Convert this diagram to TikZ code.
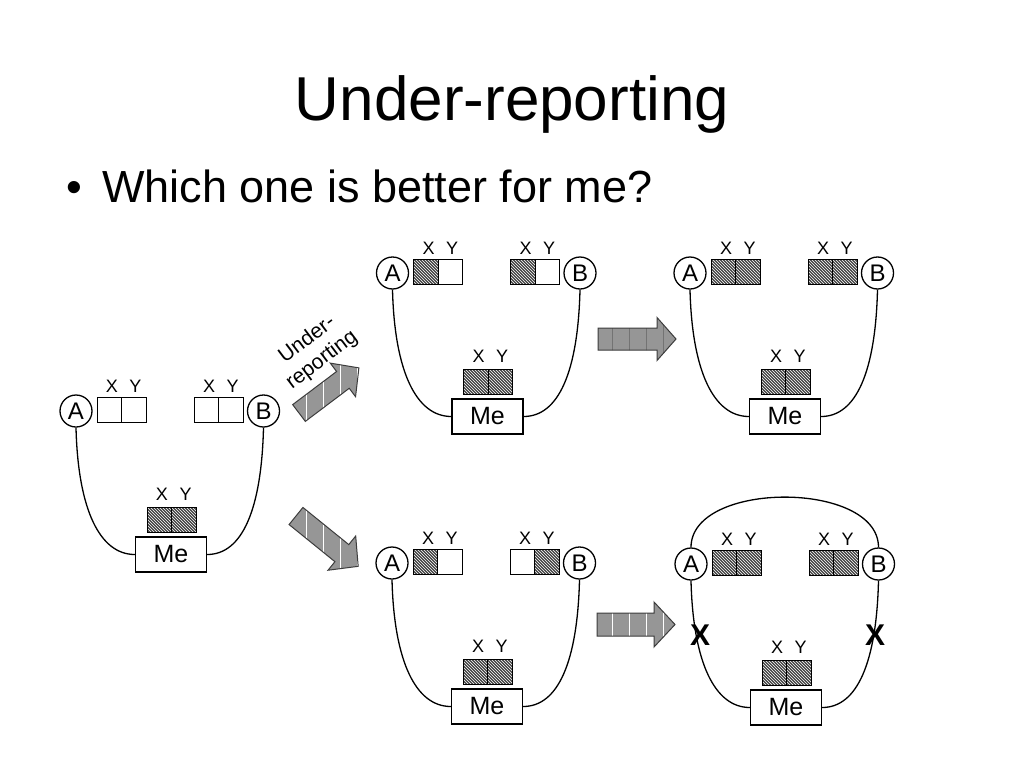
\documentclass[tikz,border=0pt]{standalone}
\usepackage{fontspec}
\setmainfont{Liberation Sans}
\usetikzlibrary{patterns}
\definecolor{arrowgray}{RGB}{150,150,150}
\definecolor{arrowedge}{RGB}{60,60,60}
\definecolor{hatchgray}{RGB}{65,65,65}

\newcommand{\blockarr}[8]{%
  \begin{scope}
    \clip[shift={(#1,#2)},rotate=#3] (0,-#5) -- ({#4-#7},-#5) -- ({#4-#7},-#6) -- (#4,0) -- ({#4-#7},#6) -- ({#4-#7},#5) -- (0,#5) -- cycle;
    \fill[arrowgray] (#1-110,#2-110) rectangle (#1+110,#2+110);
    \draw[#8,line width=0.9pt,step=17] (#1-110,#2-110) grid (#1+110,#2+110);
  \end{scope}
  \draw[arrowedge,line width=1pt,line join=miter,shift={(#1,#2)},rotate=#3] (0,-#5) -- ({#4-#7},-#5) -- ({#4-#7},-#6) -- (#4,0) -- ({#4-#7},#6) -- ({#4-#7},#5) -- (0,#5) -- cycle;
}

\begin{document}
\begin{tikzpicture}[x=1pt,y=-1pt,
  circ/.style={circle,draw,line width=1.3pt,minimum size=32pt,inner sep=0pt,font=\fontsize{24}{26}\selectfont},
  cell/.style={rectangle,draw,line width=1pt,minimum width=24.5pt,minimum height=25pt,inner sep=0pt},
  hat/.style={preaction={fill=hatchgray},pattern=north west lines,pattern color=white},
  emp/.style={fill=white},
  lab/.style={font=\fontsize{18}{20}\selectfont,inner sep=0pt},
  mebox/.style={rectangle,draw,line width=1.3pt,minimum width=71pt,minimum height=35pt,inner sep=0pt,font=\fontsize{25}{27}\selectfont,fill=white},
  link/.style={line width=1.3pt},
  bigx/.style={font=\fontsize{30}{32}\selectfont\bfseries,inner sep=0pt},
  ulab/.style={font=\fontsize{21}{24}\selectfont,rotate=37,inner sep=0pt},
  pics/panel/.style n args={4}{code={
    \node[circ] (-A) at (0,0) {A};
    \node[circ] (-B) at (187.5,0) {B};
    \node[cell,#1] (-ax) at (33.25,-1.5) {};
    \node[cell,#2] (-ay) at (57.75,-1.5) {};
    \node[cell,#3] (-bx) at (130.25,-1.5) {};
    \node[cell,#4] (-by) at (154.75,-1.5) {};
    \node[cell,hat] (-mx) at (83.25,108.5) {};
    \node[cell,hat] (-my) at (107.75,108.5) {};
    \node[lab] (-axl) at (36,-25) {X};
    \node[lab] (-ayl) at (59.5,-25) {Y};
    \node[lab] (-bxl) at (133,-25) {X};
    \node[lab] (-byl) at (156.5,-25) {Y};
    \node[lab] (-mxl) at (86,83) {X};
    \node[lab] (-myl) at (109.5,83) {Y};
    \node[mebox] (-Me) at (95,143.5) {Me};
    \draw[link] (-A.south) .. controls +(2,82) and +(-35,0) .. (-Me.west);
    \draw[link] (-B.south) .. controls +(-2,82) and +(35,0) .. (-Me.east);
  }}
]
\fill[white] (0,0) rectangle (1024,768);
\useasboundingbox (0,0) rectangle (1024,768);

\node[anchor=base,inner sep=0pt,font=\fontsize{62}{70}\selectfont] (title) at (512,120) {Under-reporting};
\node[anchor=base west,inner sep=0pt,font=\fontsize{45}{50}\selectfont] (bullet) at (66,202) {•};
\node[anchor=base west,inner sep=0pt,font=\fontsize{45}{50}\selectfont] (question) at (102,202) {Which one is better for me?};

\pic (L) at (76,411) {panel={emp}{emp}{emp}{emp}};
\pic (TM) at (392.5,273) {panel={hat}{emp}{hat}{emp}};
\pic (TR) at (690,273) {panel={hat}{hat}{hat}{hat}};
\pic (BM) at (392,563) {panel={hat}{emp}{emp}{hat}};
\pic (BR) at (691,564) {panel={hat}{hat}{hat}{hat}};

\draw[link] (BR-A.north) .. controls +(0,-67) and +(0,-67) .. (BR-B.north);
\node[bigx] (xa) at (700,635) {X};
\node[bigx] (xb) at (875,635) {X};

\blockarr{299}{413}{37}{75}{10.5}{21}{20}{white}
\blockarr{296}{516}{-39}{80}{11}{22}{21}{white}
\blockarr{598}{339}{0}{78}{11}{21.5}{19}{black!55}
\blockarr{597}{624.5}{0}{78}{11.5}{22.5}{21}{white}

\node[ulab] (ur1) at (306,338) {Under-};
\node[ulab] (ur2) at (322,360) {reporting};
\end{tikzpicture}
\end{document}
